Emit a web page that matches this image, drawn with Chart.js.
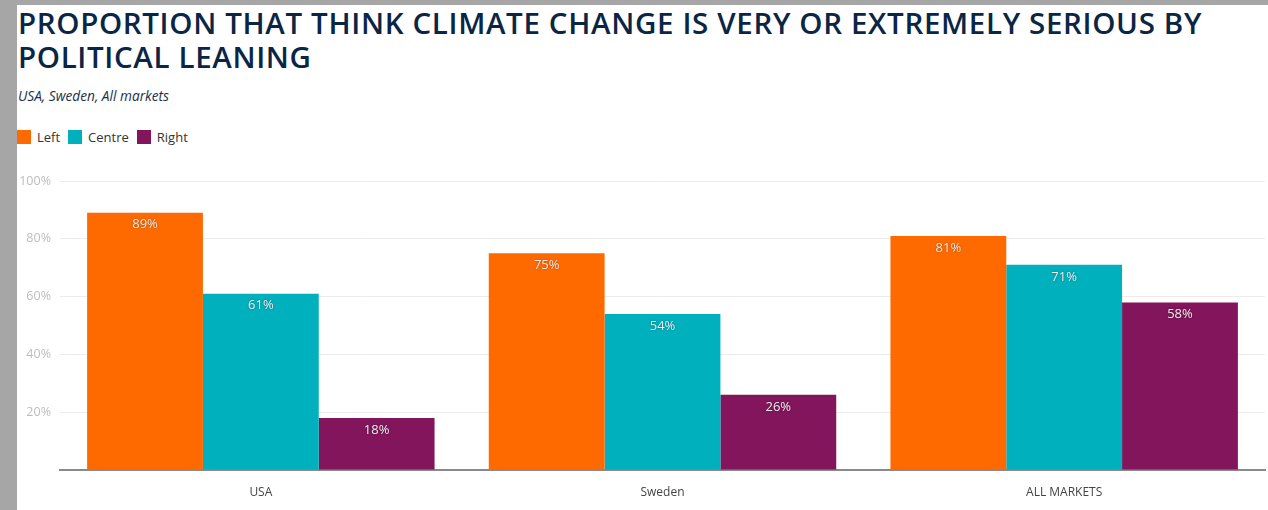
<!DOCTYPE html>
<html>
<head>
<meta charset="utf-8">
<script src="https://cdn.jsdelivr.net/npm/chart.js@4"></script>
<style>
  html, body { margin: 0; padding: 0; }
  body { width: 1268px; height: 510px; background: #a6a6a6; position: relative; overflow: hidden; }
  .panel { position: absolute; left: 17px; top: 5px; width: 1251px; height: 505px; background: #fff; }
  .title { position: absolute; left: 1px; top: 1px; width: 1245px; margin: 0; white-space: nowrap;
    font-family: 'Open Sans', sans-serif; font-size: 29.5px; line-height: 34px; font-weight: 600;
    color: #0b2545; letter-spacing: 0.65px; }
  .subtitle { position: absolute; left: 1px; top: 81px; margin: 0;
    font-family: 'Open Sans', sans-serif; font-style: italic; font-size: 13.7px; color: #1d2e4a; }
  .legend { position: absolute; left: 0; top: 123px; display: flex; gap: 8px;
    font-family: 'Open Sans', sans-serif; font-size: 13px; color: #333; }
  .legend span { display: inline-flex; align-items: center; }
  .legend i { display: inline-block; width: 14px; height: 14px; margin-right: 6px; }
  #wrap { position: absolute; left: 0; top: 155px; width: 1251px; height: 350px; }
</style>
</head>
<body>
<div class="panel">
  <h1 class="title">PROPORTION THAT THINK CLIMATE CHANGE IS VERY OR EXTREMELY SERIOUS BY<br>POLITICAL LEANING</h1>
  <div class="subtitle">USA, Sweden, All markets</div>
  <div class="legend" id="legend"></div>
  <div id="wrap"><canvas id="chart"></canvas></div>
</div>
<script>
// ======================================
// Data
// ======================================
const categories = ['USA', 'Sweden', 'ALL MARKETS'];
const seriesNames = ['Left', 'Centre', 'Right'];
const leftValues = [89, 75, 81];
const centreValues = [61, 54, 71];
const rightValues = [18, 26, 58];
const yTicks = [0, 20, 40, 60, 80, 100];

const colors = ['#ff6a00', '#00b0bd', '#82155c'];
const seriesValues = [leftValues, centreValues, rightValues];

// HTML legend
const legend = document.getElementById('legend');
seriesNames.forEach((name, i) => {
  const s = document.createElement('span');
  s.innerHTML = `<i style="background:${colors[i]}"></i>${name}`;
  legend.appendChild(s);
});

// Value labels just inside the top of each bar
const barLabels = {
  id: 'barLabels',
  afterDatasetsDraw(chart) {
    const ctx = chart.ctx;
    ctx.save();
    ctx.font = "13px 'Open Sans', sans-serif";
    ctx.textAlign = 'center';
    ctx.textBaseline = 'middle';
    ctx.fillStyle = '#eeeeee';
    ctx.shadowColor = 'rgba(0,0,0,0.4)';
    ctx.shadowBlur = 2;
    chart.data.datasets.forEach((ds, di) => {
      chart.getDatasetMeta(di).data.forEach((bar, i) => {
        ctx.fillText(ds.data[i] + '%', bar.x, bar.y + 12);
      });
    });
    ctx.restore();
  }
};

new Chart(document.getElementById('chart'), {
  type: 'bar',
  data: {
    labels: categories,
    datasets: seriesNames.map((name, i) => ({
      label: name,
      data: seriesValues[i],
      backgroundColor: colors[i],
      categoryPercentage: 0.865,
      barPercentage: 1.0,
      borderWidth: 0
    }))
  },
  options: {
    responsive: true,
    maintainAspectRatio: false,
    animation: false,
    layout: { padding: { top: 21, right: 3, left: 0, bottom: 0 } },
    plugins: {
      legend: { display: false },
      tooltip: { enabled: false }
    },
    scales: {
      x: {
        grid: { display: false, drawTicks: false },
        border: { color: '#8a8a8a', width: 2 },
        ticks: { color: '#444', font: { family: "'Open Sans', sans-serif", size: 12 }, padding: 15 },
        afterFit: (s) => { s.height = 40; }
      },
      y: {
        min: 0,
        max: 100,
        afterBuildTicks: (s) => { s.ticks = yTicks.map(v => ({ value: v })); },
        grid: { color: '#ececec', drawTicks: false },
        border: { display: false },
        ticks: {
          color: '#bdbdbd',
          font: { family: "'Open Sans', sans-serif", size: 12.5 },
          padding: 9,
          callback: (v) => v === 0 ? '' : v + '%'
        },
        afterFit: (s) => { s.width = 43; }
      }
    }
  },
  plugins: [barLabels]
});
</script>
</body>
</html>
